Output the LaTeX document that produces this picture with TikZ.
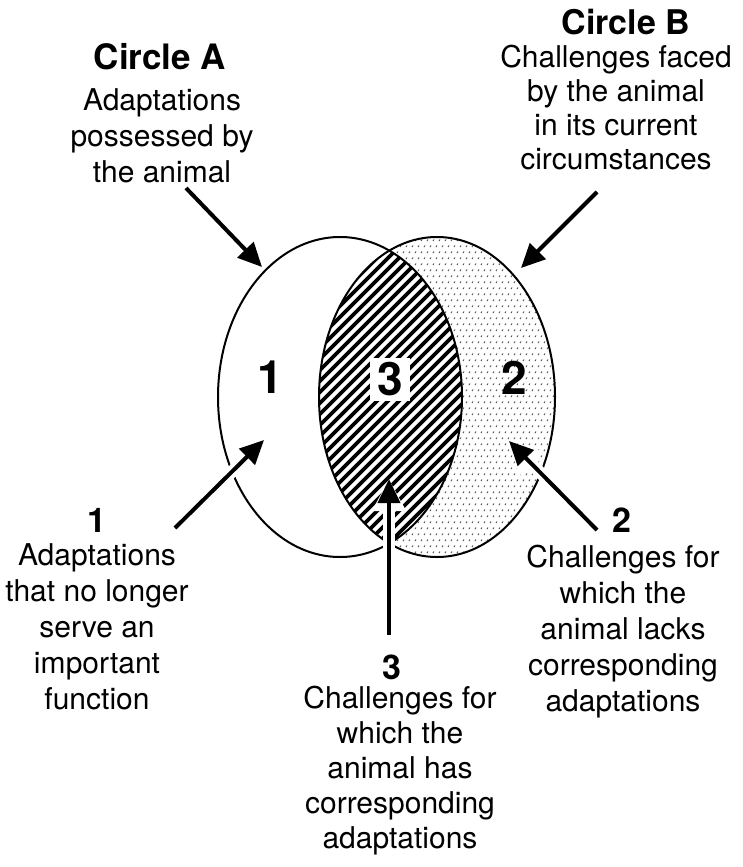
\documentclass[tikz,border=0pt]{standalone}
\usepackage{fontspec}
\setmainfont{TeX Gyre Heros}
\usetikzlibrary{arrows.meta}
\begin{document}
\begin{tikzpicture}[x=1pt,y=-1pt,
  every node/.style={inner sep=0pt, align=center},
  txt/.style={font=\fontsize{30}{36}\selectfont, anchor=north},
  ttl/.style={font=\fontsize{35}{40}\selectfont\bfseries, anchor=base},
  num/.style={font=\fontsize{34}{40}\selectfont\bfseries, anchor=base},
  bignum/.style={font=\fontsize{46}{50}\selectfont\bfseries},
  outline/.style={line width=2pt},
  arr/.style={line width=4pt, -{Triangle[length=24pt,width=22pt]}},
  halo/.style={preaction={draw=white, line width=12pt, -{Triangle[length=32pt,width=32pt]}}},
]
\useasboundingbox (0,0) rectangle (742,867);
\fill[white] (0,0) rectangle (742,867);

\coordinate (cA) at (340,397);
\coordinate (cB) at (437,397);

% stipple in circle B
\begin{scope}
  \clip (cB) ellipse [x radius=118pt, y radius=160pt];
  \foreach \j in {0,...,55} {
    \foreach \i in {0,...,40} {
      \pgfmathsetmacro\px{316+6*\i+3*mod(\j,2)}
      \pgfmathsetmacro\py{235+6*\j}
      \draw[black!70, line width=0.9pt] (\px,\py) -- ++(1,-1.5);
    }
  }
\end{scope}

% hatched intersection
\begin{scope}
  \clip (cA) ellipse [x radius=122pt, y radius=160pt];
  \clip (cB) ellipse [x radius=118pt, y radius=160pt];
  \fill[white] (300,220) rectangle (480,580);
  \foreach \i in {0,...,42} {
    \pgfmathsetmacro\c{558+\i*11}
    \draw[line width=3.6pt] (\c-200,200) -- (\c-620,620);
  }
\end{scope}

% outlines
\draw[outline] (cA) ellipse [x radius=122pt, y radius=160pt];
\draw[outline] (cB) ellipse [x radius=118pt, y radius=160pt];

% region numbers
\node[bignum] (n1) at (270,377) {1};
\node[bignum, fill=white, minimum width=40pt, minimum height=43pt] (n3) at (390,379) {3};
\node[bignum] (n2) at (514,378) {2};

% labels
\node[ttl] (titleA) at (160,70) {Circle A};
\node[txt] (descA) at (162,88) {Adaptations\\possessed by\\the animal};
\node[ttl, font=\fontsize{34}{40}\selectfont\bfseries] (titleB) at (626,35) {Circle B};
\node[txt, font=\fontsize{30}{34}\selectfont] (descB) at (616,45) {Challenges faced\\by the animal\\in its current\\circumstances};

\node[num] (l1) at (97,532) {1};
\node[txt] (d1) at (97,543) {Adaptations\\that no longer\\serve an\\important\\function};
\node[num] (l2) at (622,532) {2};
\node[txt] (d2) at (623,545) {Challenges for\\which the\\animal lacks\\corresponding\\adaptations};
\node[num] (l3) at (392,679) {3};
\node[txt, font=\fontsize{30}{35}\selectfont] (d3) at (400,686) {Challenges for\\which the\\animal has\\corresponding\\adaptations};

% arrows
\coordinate (sA) at (186,188); \coordinate (tA) at (262,267);
\coordinate (sB) at (597,192); \coordinate (tB) at (521,268);
\coordinate (s1) at (175,528); \coordinate (t1) at (264,440);
\coordinate (s2) at (597,530); \coordinate (t2) at (509,441);
\coordinate (s3) at (389,635); \coordinate (t3) at (389,479);

\draw[arr] (sA) -- (tA);
\draw[arr] (sB) -- (tB);
\draw[arr, halo] (s1) -- (t1);
\draw[arr, halo] (s2) -- (t2);
\draw[arr, halo] (s3) -- (t3);
\end{tikzpicture}
\end{document}
